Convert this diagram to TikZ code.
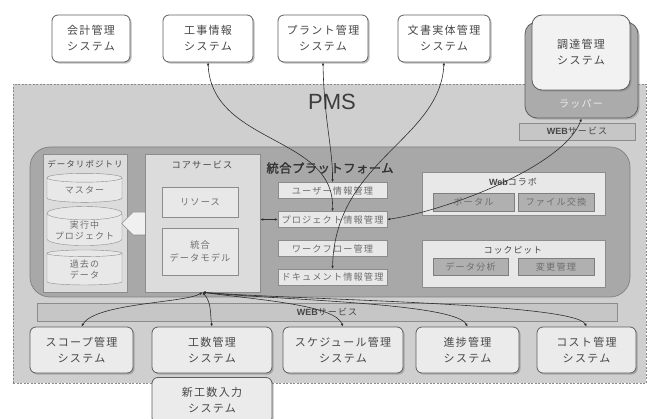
\documentclass[tikz,border=0pt]{standalone}
\usepackage{fontspec}
\newfontfamily\jp[LetterSpace=12]{Noto Sans CJK JP}
\newfontfamily\jpbold[LetterSpace=4,FakeBold=1.6]{Noto Sans CJK JP}
\newfontfamily\pmsfont{Liberation Sans}
\usetikzlibrary{shapes.geometric,shapes.arrows,shadows,arrows.meta}
\definecolor{txt}{HTML}{474747}
\definecolor{txtl}{HTML}{6E6E6E}
\definecolor{bord}{HTML}{5E5E5E}
\definecolor{pbord}{HTML}{8C8C8C}
\definecolor{ibord}{HTML}{7E7E7E}
\definecolor{pmsfill}{HTML}{CFCFCF}
\definecolor{dashc}{HTML}{8A8A8A}
\definecolor{platfill}{HTML}{A8A8A8}
\definecolor{platbord}{HTML}{808080}
\definecolor{panelfill}{HTML}{DCDCDC}
\definecolor{funcfill}{HTML}{E8E8E8}
\definecolor{innerfill}{HTML}{B0B0B0}
\definecolor{botfill}{HTML}{EBEBEB}
\definecolor{webfill}{HTML}{C6C6C6}
\definecolor{wrapfill}{HTML}{ABABAB}
\definecolor{linec}{HTML}{2E2E2E}
\definecolor{pmstxt}{HTML}{3C3C3C}
\begin{document}
\begin{tikzpicture}[x=1pt,y=-1pt,text=txt,
  sysbox/.style={draw=bord, line width=0.8pt, rounded corners=6pt, align=center, inner sep=0pt,
    font=\jp\fontsize{11}{16}\selectfont,
    drop shadow={shadow xshift=1.6pt,shadow yshift=-1.6pt,fill=black!50}},
  topsys/.style={sysbox, fill=white, minimum height=47pt},
  botsys/.style={sysbox, fill=botfill, minimum height=46pt},
  panel/.style={draw=pbord, fill=panelfill, line width=0.6pt, inner sep=0pt},
  func/.style={draw=pbord, fill=funcfill, inner sep=0pt, minimum width=109pt, minimum height=16pt,
    font=\jp\fontsize{9.2}{11}\selectfont, text=txtl},
  inbox/.style={draw=ibord, fill=innerfill, inner sep=0pt, minimum height=18pt, text=txtl,
    font=\jp\fontsize{9.2}{11}\selectfont},
  corebox/.style={draw=pbord, fill=funcfill, inner sep=0pt, minimum width=76pt, align=center, text=txtl,
    font=\jp\fontsize{9.2}{13}\selectfont},
  db/.style={cylinder, shape border rotate=90, aspect=0.22, draw=pbord, fill=funcfill,
    minimum width=75pt, inner sep=0.5pt, align=center, text=txtl, font=\jp\fontsize{9}{11}\selectfont},
  lbl/.style={inner sep=0pt},
  webbar/.style={draw=pbord, fill=webfill, inner sep=0pt, font=\jp\fontsize{9}{11}\selectfont},
  conn/.style={draw=linec, line width=0.6pt, {Latex[length=3pt,width=2.6pt]}-{Latex[length=3pt,width=2.6pt]}}
]
\useasboundingbox (0,0) rectangle (650,419);
\fill[white] (0,0) rectangle (650,419);

% PMS region
\node[draw=dashc, dash pattern=on 2pt off 1.5pt, fill=pmsfill, minimum width=633pt, minimum height=299pt, inner sep=0pt] (pms) at (329.5,233.5) {};
\node[lbl, font=\pmsfont\fontsize{22}{22}\selectfont, text=pmstxt] (pmslabel) at (332,102) {PMS};

% top systems
\node[topsys, minimum width=78pt] (kaikei) at (91,38.5) {会計管理\\システム};
\node[topsys, minimum width=90pt] (kouji) at (208,38.5) {工事情報\\システム};
\node[topsys, minimum width=90pt] (plant) at (323,38.5) {プラント管理\\システム};
\node[topsys, minimum width=92pt] (bunsho) at (444,38.5) {文書実体管理\\システム};

% wrapper
\node[draw=bord, fill=wrapfill, line width=0.8pt, rounded corners=12pt, minimum width=113pt, minimum height=96pt, inner sep=0pt,
  drop shadow={shadow xshift=1.6pt,shadow yshift=-1.6pt,fill=black!45}] (wrap) at (581.5,70) {};
\node[topsys, fill=black!5, rounded corners=10pt, minimum width=98pt, minimum height=75pt] (chotatsu) at (581,52.5) {調達管理\\システム};
\node[lbl, font=\jp\fontsize{10}{12}\selectfont, text=black!8] (rapper) at (581,104) {ラッパー};
\node[webbar, minimum width=116pt, minimum height=17pt] (websvc1) at (577,131.5) {{\pmsfont\bfseries WEB}サービス};

% platform
\node[draw=platbord, fill=platfill, line width=0.7pt, rounded corners=20pt, minimum width=600pt, minimum height=150pt, inner sep=0pt] (plat) at (330,222) {};

% data repository
\node[panel, minimum width=84pt, minimum height=138pt] (repo) at (85,223) {};
\node[lbl, font=\jp\fontsize{8.5}{10}\selectfont] (repolabel) at (85,164) {データリポジトリ};
\node[db, minimum height=29pt] (master) at (84.5,190.5) {マスター};
\node[db, minimum height=36pt] (jikkou) at (84.5,230) {実行中\\プロジェクト};
\node[db, minimum height=35pt] (kako) at (84.5,269.5) {過去の\\データ};

% double arrow
\node[double arrow, draw=pbord, fill=black!6, line width=0.6pt, minimum height=22pt, minimum width=23pt,
  inner sep=5.5pt, double arrow head extend=0pt] (darrow) at (139,223.5) {};

% core service
\node[panel, minimum width=115pt, minimum height=138pt] (core) at (202.5,223) {};
\node[lbl, font=\jp\fontsize{9.2}{11}\selectfont] (corelabel) at (202,165) {コアサービス};
\node[corebox, minimum height=30pt] (resource) at (200,202) {リソース};
\node[corebox, minimum height=47pt] (model) at (200,251.5) {統合\\データモデル};

% integrated platform functions
\node[lbl, font=\jpbold\fontsize{12.3}{14}\selectfont, text=black!80] (platlabel) at (330,168) {統合プラットフォーム};
\node[func] (user) at (332.5,190.5) {ユーザー情報管理};
\node[func] (project) at (332.5,219.5) {プロジェクト情報管理};
\node[func] (workflow) at (332.5,248.5) {ワークフロー管理};
\node[func] (document) at (332.5,277) {ドキュメント情報管理};

% web collabo
\node[panel, fill=funcfill, minimum width=183pt, minimum height=43pt] (webcollab) at (513.5,193.5) {};
\node[lbl, font=\jp\fontsize{9}{11}\selectfont] (webcollablabel) at (513,182) {{\pmsfont\bfseries Web}コラボ};
\node[inbox, minimum width=81pt] (portal) at (473.5,202) {ポータル};
\node[inbox, minimum width=76pt] (file) at (556,202) {ファイル交換};

% cockpit
\node[panel, fill=funcfill, minimum width=183pt, minimum height=47pt] (cockpit) at (513.5,263.5) {};
\node[lbl, font=\jp\fontsize{8.8}{11}\selectfont] (cockpitlabel) at (513,250) {コックピット};
\node[inbox, minimum width=75pt, minimum height=17pt] (analysis) at (470.5,266.5) {データ分析};
\node[inbox, minimum width=76pt, minimum height=17pt] (change) at (556,266.5) {変更管理};

% web service bar
\node[webbar, minimum width=580pt, minimum height=18pt] (websvc2) at (327,312) {{\pmsfont\bfseries WEB}サービス};

% bottom systems
\node[botsys, minimum width=103pt] (scope) at (81.5,350) {スコープ管理\\システム};
\node[botsys, minimum width=120pt] (kousu) at (212,350) {工数管理\\システム};
\node[botsys, minimum width=120pt] (schedule) at (343,350) {スケジュール管理\\システム};
\node[botsys, minimum width=103pt] (shinchoku) at (467.5,350) {進捗管理\\システム};
\node[botsys, minimum width=99pt] (cost) at (586.5,350) {コスト管理\\システム};
\node[botsys, minimum width=120pt] (shinkousu) at (212,400.5) {新工数入力\\システム};

% connectors
\draw[conn] (plant.south) .. controls (324,120) and (333,150) .. (user.north);
\draw[conn] (kouji.south) .. controls (212,145) and (335,135) .. (project.north);
\draw[conn] (bunsho.south) .. controls (440,140) and (335,160) .. (document.north);
\draw[conn] (wrap.south) .. controls (565,165) and (450,210) .. (project.east);
\draw[conn] (project.west) -- (project.west -| core.east);
\coordinate (hub) at (core.south);
\draw[conn] (hub) .. controls (185,303) and (95,303) .. (scope.north);
\draw[conn] (hub) .. controls (212,303) and (210,315) .. (kousu.north);
\draw[conn] (hub) .. controls (260,300) and (335,305) .. (schedule.north);
\draw[conn] (hub) .. controls (280,300) and (455,303) .. (shinchoku.north);
\draw[conn] (hub) .. controls (300,300) and (575,303) .. (cost.north);
\end{tikzpicture}
\end{document}
